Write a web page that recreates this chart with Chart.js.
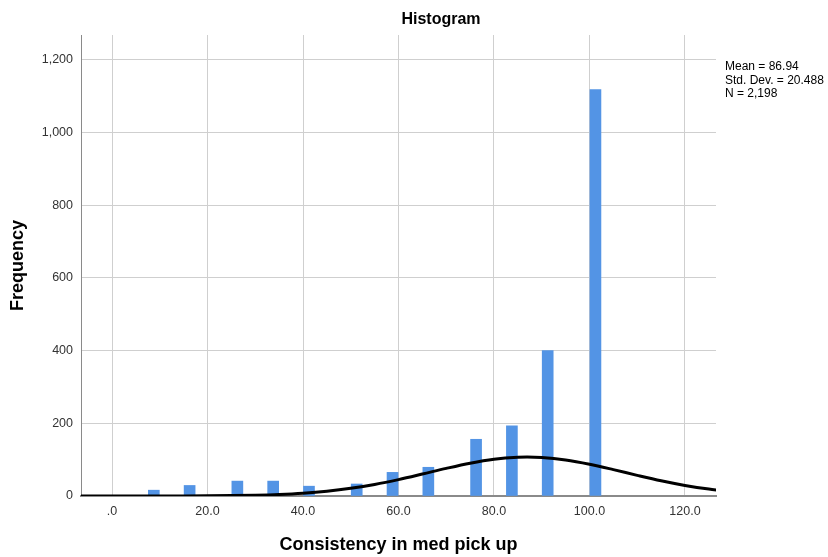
<!DOCTYPE html>
<html><head><meta charset="utf-8">
<script src="https://cdn.jsdelivr.net/npm/chart.js@4.4.1/dist/chart.umd.min.js"></script>
<style>html,body{margin:0;padding:0;background:#fff}canvas{display:block}</style>
</head><body>
<canvas id="c" width="828" height="557"></canvas>
<script>
const chartTitle = 'Histogram';
const xAxisTitle = 'Consistency in med pick up';
const yAxisTitle = 'Frequency';
const statsLines = ['Mean = 86.94', 'Std. Dev. = 20.488', 'N = 2,198'];
const binCenters = [8.75, 16.25, 26.25, 33.75, 41.25, 51.25, 58.75, 66.25, 76.25, 83.75, 91.25, 101.25];
const frequencies = [16, 29, 41, 41, 27, 33, 65, 79, 156, 193, 400, 1118];
const curveX = [-10, -5, 0, 5, 10, 15, 20, 25, 30, 35, 40, 45, 50, 55, 60, 65, 70, 75, 80, 85, 86.94, 90, 95, 100, 105, 110, 115, 120, 125, 130];
const curveY = [0.001, 0.005, 0.013, 0.036, 0.093, 0.225, 0.51, 1.11, 2.25, 4.30, 7.75, 13.17, 21.07, 31.76, 45.09, 60.32, 76.05, 90.31, 101.06, 106.55, 107.03, 105.84, 99.06, 87.35, 72.58, 56.81, 41.89, 29.11, 19.06, 11.76];
const xTicks = [0, 20, 40, 60, 80, 100, 120];
const yTicks = [0, 200, 400, 600, 800, 1000, 1200];

const FONT = "'Liberation Sans', Arial, sans-serif";

const textPlugin = {
  id: 'textPlugin',
  afterDraw(chart) {
    const ctx = chart.ctx;
    ctx.save();
    ctx.fillStyle = '#000';
    ctx.textBaseline = 'middle';
    ctx.textAlign = 'center';
    ctx.font = 'bold 16px ' + FONT;
    ctx.fillText(chartTitle, 441, 20);
    ctx.textAlign = 'left';
    ctx.font = '12px ' + FONT;
    statsLines.forEach((s, i) => ctx.fillText(s, 725, 67 + i * 13.5));
    ctx.restore();
  }
};

new Chart(document.getElementById('c'), {
  type: 'bar',
  data: {
    datasets: [
      {
        type: 'line',
        data: curveX.map((x, i) => ({ x: x, y: curveY[i] })),
        borderColor: '#000',
        borderWidth: 3,
        pointRadius: 0,
        tension: 0.4,
        cubicInterpolationMode: 'monotone',
        fill: false,
        order: 0
      },
      {
        type: 'bar',
        data: binCenters.map((x, i) => ({ x: x, y: frequencies[i] })),
        backgroundColor: '#5394E5',
        borderWidth: 0,
        barThickness: 11,
        order: 1
      }
    ]
  },
  options: {
    responsive: false,
    animation: false,
    devicePixelRatio: 1,
    layout: { padding: { top: 35, right: 112, bottom: 0, left: 0 } },
    plugins: { legend: { display: false }, tooltip: { enabled: false } },
    scales: {
      x: {
        type: 'linear',
        min: -6.5,
        max: 126.5,
        offset: false,
        afterBuildTicks: (s) => { s.ticks = xTicks.map(v => ({ value: v })); },
        afterFit: (s) => { s.height = 61; },
        grid: { offset: false, color: '#cfcfcf', lineWidth: 1, drawTicks: false },
        border: { color: '#8a8a8a', width: 2 },
        ticks: {
          padding: 8,
          color: '#333',
          font: { family: FONT, size: 12.5 },
          maxRotation: 0,
          callback: (v) => { const s = Number(v).toFixed(1); return s.startsWith('0') ? s.slice(1) : s; }
        },
        title: {
          display: true,
          text: xAxisTitle,
          color: '#000',
          font: { family: FONT, size: 18, weight: 'bold' },
          padding: { top: 0, bottom: 1.2 }
        }
      },
      y: {
        type: 'linear',
        min: 0,
        max: 1268,
        afterBuildTicks: (s) => { s.ticks = yTicks.map(v => ({ value: v })); },
        afterFit: (s) => { s.width = 81; },
        grid: { color: '#cfcfcf', lineWidth: 1, drawTicks: false },
        border: { color: '#8a8a8a', width: 1 },
        ticks: {
          padding: 8,
          color: '#333',
          font: { family: FONT, size: 12.5 },
          callback: (v) => Number(v).toLocaleString('en-US')
        },
        title: {
          display: true,
          text: yAxisTitle,
          color: '#000',
          font: { family: FONT, size: 18, weight: 'bold' },
          padding: { top: 7.2, bottom: 0 }
        }
      }
    }
  },
  plugins: [textPlugin]
});
</script>
</body></html>
